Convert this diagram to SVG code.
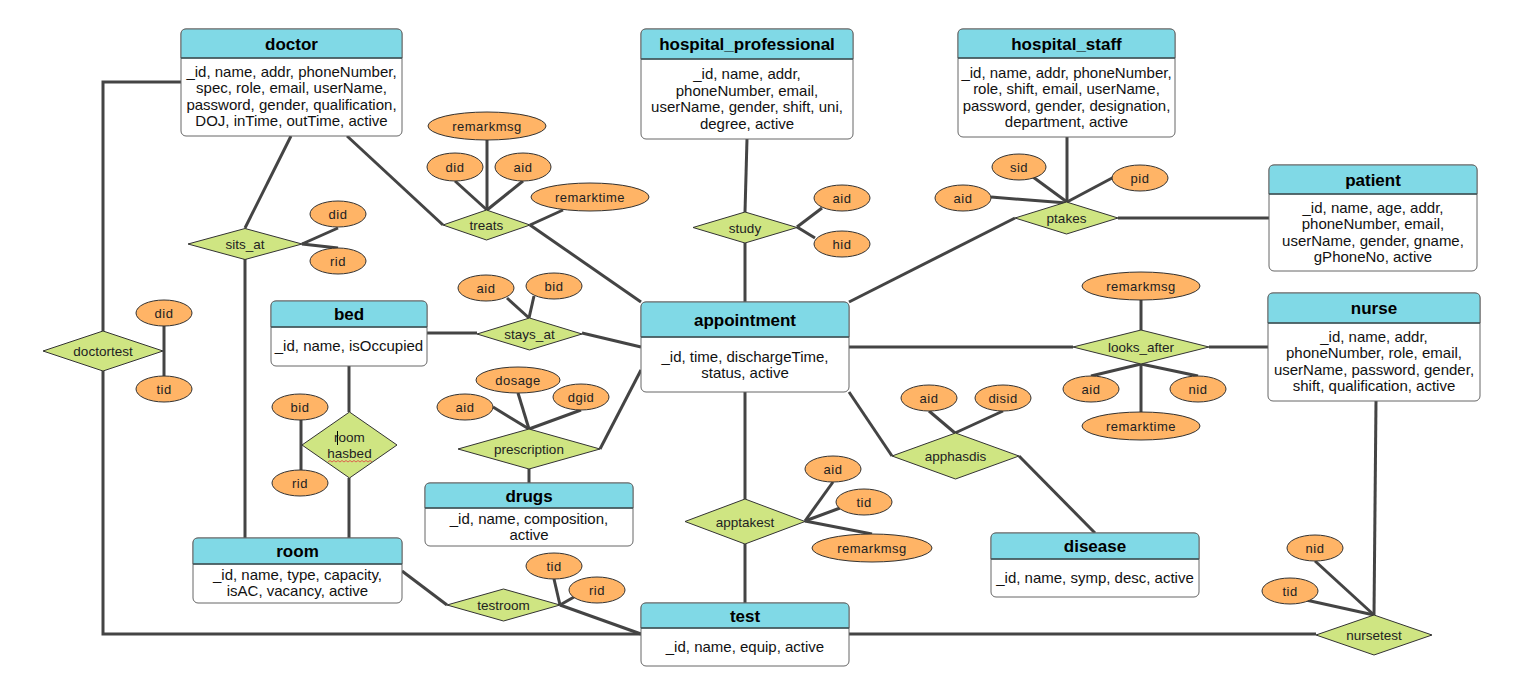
<svg xmlns="http://www.w3.org/2000/svg" width="1524" height="681" viewBox="0 0 1524 681">
<style>
.conn line,.conn polyline{stroke:#444;stroke-width:3;fill:none}
.body{fill:#fff;stroke:#666;stroke-width:1}
.head{fill:#80D9E6;stroke:#666;stroke-width:1}
.div{stroke:#3d5558;stroke-width:1.5}
.title{font-family:"Liberation Sans",Arial,sans-serif;font-size:17px;font-weight:bold;fill:#000;text-anchor:middle}
.attr{font-family:"Liberation Sans",Arial,sans-serif;font-size:15px;fill:#111;text-anchor:middle}
.rel polygon{fill:#CFE582;stroke:#333;stroke-width:1}
.rel text{font-family:"Liberation Sans",Arial,sans-serif;font-size:13.5px;fill:#222;text-anchor:middle}
.att ellipse{fill:#FFB466;stroke:#333;stroke-width:1}
.att text{font-family:"Liberation Sans",Arial,sans-serif;font-size:13px;letter-spacing:0.5px;fill:#222;text-anchor:middle}
</style>
<rect width="1524" height="681" fill="#fff"/>
<g id="connectors" class="conn">
<polyline points="181,82 103,82 103,331"/>
<polyline points="103,371 103,634 641,634"/>
<line x1="164" y1="326" x2="164" y2="376"/>
<line x1="291" y1="136" x2="245" y2="228"/>
<line x1="245" y1="259" x2="245" y2="538"/>
<line x1="302" y1="244" x2="338" y2="228"/>
<line x1="302" y1="244" x2="338" y2="248"/>
<line x1="347" y1="136" x2="443" y2="225"/>
<line x1="530" y1="225" x2="641" y2="302"/>
<line x1="487" y1="140" x2="487" y2="210"/>
<line x1="455" y1="181" x2="487" y2="210"/>
<line x1="523" y1="181" x2="487" y2="210"/>
<line x1="563" y1="210" x2="530" y2="225"/>
<line x1="747" y1="139" x2="745" y2="212"/>
<line x1="745" y1="243" x2="745" y2="302"/>
<line x1="797" y1="227" x2="822" y2="208"/>
<line x1="797" y1="227" x2="815" y2="238"/>
<line x1="1067" y1="137" x2="1067" y2="202"/>
<line x1="1033" y1="177" x2="1067" y2="202"/>
<line x1="991" y1="197" x2="1067" y2="203"/>
<line x1="1114" y1="177" x2="1067" y2="202"/>
<line x1="1118" y1="218" x2="1269" y2="218"/>
<line x1="1015" y1="218" x2="849" y2="302"/>
<line x1="427" y1="333" x2="477" y2="333"/>
<line x1="582" y1="333" x2="641" y2="347"/>
<line x1="507" y1="298" x2="529" y2="318"/>
<line x1="534" y1="296" x2="529" y2="318"/>
<line x1="349" y1="366" x2="349" y2="412"/>
<line x1="349" y1="478" x2="349" y2="538"/>
<line x1="301" y1="420" x2="301" y2="470"/>
<line x1="600" y1="449" x2="641" y2="370"/>
<line x1="529" y1="469" x2="529" y2="483"/>
<line x1="493" y1="407" x2="529" y2="429"/>
<line x1="518" y1="393" x2="529" y2="429"/>
<line x1="581" y1="410" x2="529" y2="429"/>
<line x1="849" y1="347" x2="1073" y2="347"/>
<line x1="1209" y1="347" x2="1268" y2="347"/>
<line x1="1141" y1="300" x2="1141" y2="330"/>
<line x1="1141" y1="364" x2="1091" y2="376"/>
<line x1="1141" y1="364" x2="1198" y2="376"/>
<line x1="1141" y1="364" x2="1141" y2="412"/>
<line x1="849" y1="392" x2="892" y2="456"/>
<line x1="1019" y1="456" x2="1095" y2="533"/>
<line x1="929" y1="411" x2="955" y2="433"/>
<line x1="1003" y1="411" x2="955" y2="433"/>
<line x1="745" y1="392" x2="745" y2="499"/>
<line x1="745" y1="544" x2="745" y2="603"/>
<line x1="833" y1="482" x2="805" y2="521"/>
<line x1="840" y1="508" x2="805" y2="521"/>
<line x1="872" y1="534" x2="805" y2="521"/>
<line x1="402" y1="571" x2="447" y2="605"/>
<line x1="560" y1="605" x2="641" y2="634"/>
<line x1="554" y1="579" x2="560" y2="605"/>
<line x1="574" y1="597" x2="560" y2="605"/>
<line x1="849" y1="634" x2="1316" y2="634"/>
<line x1="1376" y1="401" x2="1374" y2="615"/>
<line x1="1315" y1="561" x2="1374" y2="615"/>
<line x1="1306" y1="600" x2="1374" y2="615"/>
</g>

<g id="doctor">
<rect class="body" x="181" y="29" width="221" height="107" rx="5"/>
<path class="head" d="M181 58 V34 Q181 29 186 29 H397 Q402 29 402 34 V58 Z"/>
<line class="div" x1="181" y1="58" x2="402" y2="58"/>
<text class="title" x="291.5" y="49.5">doctor</text>
<text class="attr" x="291.5" y="77">_id, name, addr, phoneNumber,</text>
<text class="attr" x="291.5" y="93">spec, role, email, userName,</text>
<text class="attr" x="291.5" y="110">password, gender, qualification,</text>
<text class="attr" x="291.5" y="126">DOJ, inTime, outTime, active</text>
</g>
<g id="hospital_professional">
<rect class="body" x="641" y="29" width="212" height="110" rx="5"/>
<path class="head" d="M641 59 V34 Q641 29 646 29 H848 Q853 29 853 34 V59 Z"/>
<line class="div" x1="641" y1="59" x2="853" y2="59"/>
<text class="title" x="747" y="50">hospital_professional</text>
<text class="attr" x="747" y="79">_id, name, addr,</text>
<text class="attr" x="747" y="96">phoneNumber, email,</text>
<text class="attr" x="747" y="112">userName, gender, shift, uni,</text>
<text class="attr" x="747" y="129">degree, active</text>
</g>
<g id="hospital_staff">
<rect class="body" x="958" y="29" width="217" height="108" rx="5"/>
<path class="head" d="M958 58 V34 Q958 29 963 29 H1170 Q1175 29 1175 34 V58 Z"/>
<line class="div" x1="958" y1="58" x2="1175" y2="58"/>
<text class="title" x="1066.5" y="49.5">hospital_staff</text>
<text class="attr" x="1066.5" y="78">_id, name, addr, phoneNumber,</text>
<text class="attr" x="1066.5" y="94">role, shift, email, userName,</text>
<text class="attr" x="1066.5" y="111">password, gender, designation,</text>
<text class="attr" x="1066.5" y="127">department, active</text>
</g>
<g id="patient">
<rect class="body" x="1269" y="165" width="208" height="106" rx="5"/>
<path class="head" d="M1269 194 V170 Q1269 165 1274 165 H1472 Q1477 165 1477 170 V194 Z"/>
<line class="div" x1="1269" y1="194" x2="1477" y2="194"/>
<text class="title" x="1373" y="185.5">patient</text>
<text class="attr" x="1373" y="213">_id, name, age, addr,</text>
<text class="attr" x="1373" y="229">phoneNumber, email,</text>
<text class="attr" x="1373" y="246">userName, gender, gname,</text>
<text class="attr" x="1373" y="262">gPhoneNo, active</text>
</g>
<g id="nurse">
<rect class="body" x="1268" y="293" width="212" height="108" rx="5"/>
<path class="head" d="M1268 323 V298 Q1268 293 1273 293 H1475 Q1480 293 1480 298 V323 Z"/>
<line class="div" x1="1268" y1="323" x2="1480" y2="323"/>
<text class="title" x="1374" y="314">nurse</text>
<text class="attr" x="1374" y="342">_id, name, addr,</text>
<text class="attr" x="1374" y="358">phoneNumber, role, email,</text>
<text class="attr" x="1374" y="375">userName, password, gender,</text>
<text class="attr" x="1374" y="391">shift, qualification, active</text>
</g>
<g id="appointment">
<rect class="body" x="641" y="302" width="208" height="90" rx="5"/>
<path class="head" d="M641 337 V307 Q641 302 646 302 H844 Q849 302 849 307 V337 Z"/>
<line class="div" x1="641" y1="337" x2="849" y2="337"/>
<text class="title" x="745" y="325.5">appointment</text>
<text class="attr" x="745" y="362">_id, time, dischargeTime,</text>
<text class="attr" x="745" y="378">status, active</text>
</g>
<g id="bed">
<rect class="body" x="271" y="301" width="156" height="65" rx="5"/>
<path class="head" d="M271 327 V306 Q271 301 276 301 H422 Q427 301 427 306 V327 Z"/>
<line class="div" x1="271" y1="327" x2="427" y2="327"/>
<text class="title" x="349" y="320">bed</text>
<text class="attr" x="349" y="351">_id, name, isOccupied</text>
</g>
<g id="room">
<rect class="body" x="193" y="538" width="209" height="65" rx="5"/>
<path class="head" d="M193 564 V543 Q193 538 198 538 H397 Q402 538 402 543 V564 Z"/>
<line class="div" x1="193" y1="564" x2="402" y2="564"/>
<text class="title" x="297.5" y="557">room</text>
<text class="attr" x="297.5" y="580">_id, name, type, capacity,</text>
<text class="attr" x="297.5" y="596">isAC, vacancy, active</text>
</g>
<g id="drugs">
<rect class="body" x="425" y="483" width="208" height="63" rx="5"/>
<path class="head" d="M425 508 V488 Q425 483 430 483 H628 Q633 483 633 488 V508 Z"/>
<line class="div" x1="425" y1="508" x2="633" y2="508"/>
<text class="title" x="529" y="501.5">drugs</text>
<text class="attr" x="529" y="524">_id, name, composition,</text>
<text class="attr" x="529" y="540">active</text>
</g>
<g id="test">
<rect class="body" x="641" y="603" width="208" height="63" rx="5"/>
<path class="head" d="M641 628 V608 Q641 603 646 603 H844 Q849 603 849 608 V628 Z"/>
<line class="div" x1="641" y1="628" x2="849" y2="628"/>
<text class="title" x="745" y="621.5">test</text>
<text class="attr" x="745" y="652">_id, name, equip, active</text>
</g>
<g id="disease">
<rect class="body" x="991" y="533" width="208" height="64" rx="5"/>
<path class="head" d="M991 559 V538 Q991 533 996 533 H1194 Q1199 533 1199 538 V559 Z"/>
<line class="div" x1="991" y1="559" x2="1199" y2="559"/>
<text class="title" x="1095" y="552">disease</text>
<text class="attr" x="1095" y="583">_id, name, symp, desc, active</text>
</g>

<g id="treats" class="rel"><polygon points="443,225 486.5,210 530,225 486.5,240"/><text x="486.5" y="230">treats</text></g>
<g id="sits_at" class="rel"><polygon points="188,244 245,228.5 302,244 245,259.5"/><text x="245" y="249">sits_at</text></g>
<g id="doctortest" class="rel"><polygon points="43,351 103,331 163,351 103,371"/><text x="103" y="356">doctortest</text></g>
<g id="study" class="rel"><polygon points="693,227.5 745,212 797,227.5 745,243"/><text x="745" y="232.5">study</text></g>
<g id="ptakes" class="rel"><polygon points="1015,218 1066.5,202 1118,218 1066.5,234"/><text x="1066.5" y="223">ptakes</text></g>
<g id="stays_at" class="rel"><polygon points="477,334 529.5,318 582,334 529.5,350"/><text x="529.5" y="339">stays_at</text></g>
<g id="room_hasbed" class="rel"><polygon points="302,445 349.5,412 397,445 349.5,478"/><text x="349.5" y="442">room</text><text x="349.5" y="458">hasbed</text>
<line x1="337.5" y1="431" x2="337.5" y2="445" stroke="#000" stroke-width="1"/>
<path d="M328 462 l2 -1.5 l2 1.5 l2 -1.5 l2 1.5 l2 -1.5 l2 1.5 l2 -1.5 l2 1.5 l2 -1.5 l2 1.5 l2 -1.5 l2 1.5 l2 -1.5 l2 1.5 l2 -1.5 l2 1.5 l2 -1.5 l2 1.5 l2 -1.5 l2 1.5 l2 -1.5 l2 1.5" fill="none" stroke="#e04040" stroke-width="0.8"/></g>
<g id="prescription" class="rel"><polygon points="458,449 529,429 600,449 529,469"/><text x="529" y="454">prescription</text></g>
<g id="apptakest" class="rel"><polygon points="685,521.5 745,499 805,521.5 745,544"/><text x="745" y="526.5">apptakest</text></g>
<g id="testroom" class="rel"><polygon points="447,605 503.5,589 560,605 503.5,621"/><text x="503.5" y="610">testroom</text></g>
<g id="apphasdis" class="rel"><polygon points="892,456 955.5,433 1019,456 955.5,479"/><text x="955.5" y="461">apphasdis</text></g>
<g id="looks_after" class="rel"><polygon points="1073,347 1141,330 1209,347 1141,364"/><text x="1141" y="352">looks_after</text></g>
<g id="nursetest" class="rel"><polygon points="1316,635 1374,615 1432,635 1374,655"/><text x="1374" y="640">nursetest</text></g>

<g id="treats_attrs" class="att">
<ellipse cx="487" cy="126" rx="59" ry="14"/><text x="487" y="130.5">remarkmsg</text>
<ellipse cx="455" cy="167" rx="28" ry="14"/><text x="455" y="171.5">did</text>
<ellipse cx="523" cy="167" rx="28" ry="14"/><text x="523" y="171.5">aid</text>
<ellipse cx="590" cy="197" rx="59" ry="14"/><text x="590" y="201.5">remarktime</text>
</g>
<g id="sits_at_attrs" class="att">
<ellipse cx="338" cy="214" rx="28" ry="13"/><text x="338" y="218.5">did</text>
<ellipse cx="338" cy="261" rx="28" ry="13"/><text x="338" y="265.5">rid</text>
</g>
<g id="doctortest_attrs" class="att">
<ellipse cx="164" cy="313" rx="28" ry="13"/><text x="164" y="317.5">did</text>
<ellipse cx="164" cy="389" rx="28" ry="13"/><text x="164" y="393.5">tid</text>
</g>
<g id="study_attrs" class="att">
<ellipse cx="842" cy="198" rx="28" ry="13"/><text x="842" y="202.5">aid</text>
<ellipse cx="842" cy="244" rx="28" ry="13"/><text x="842" y="248.5">hid</text>
</g>
<g id="ptakes_attrs" class="att">
<ellipse cx="1019" cy="167" rx="27" ry="13"/><text x="1019" y="171.5">sid</text>
<ellipse cx="963" cy="198" rx="28" ry="13"/><text x="963" y="202.5">aid</text>
<ellipse cx="1140" cy="178" rx="28" ry="13"/><text x="1140" y="182.5">pid</text>
</g>
<g id="stays_at_attrs" class="att">
<ellipse cx="486" cy="288" rx="28" ry="13"/><text x="486" y="292.5">aid</text>
<ellipse cx="554" cy="286" rx="28" ry="13"/><text x="554" y="290.5">bid</text>
</g>
<g id="room_hasbed_attrs" class="att">
<ellipse cx="300" cy="407" rx="28" ry="13"/><text x="300" y="411.5">bid</text>
<ellipse cx="300" cy="483" rx="28" ry="13"/><text x="300" y="487.5">rid</text>
</g>
<g id="prescription_attrs" class="att">
<ellipse cx="518" cy="380" rx="42" ry="13"/><text x="518" y="384.5">dosage</text>
<ellipse cx="465" cy="407" rx="28" ry="13"/><text x="465" y="411.5">aid</text>
<ellipse cx="581" cy="397" rx="28" ry="13"/><text x="581" y="401.5">dgid</text>
</g>
<g id="apptakest_attrs" class="att">
<ellipse cx="833" cy="469" rx="28" ry="13"/><text x="833" y="473.5">aid</text>
<ellipse cx="864" cy="502" rx="28" ry="13"/><text x="864" y="506.5">tid</text>
<ellipse cx="872" cy="548" rx="60" ry="14"/><text x="872" y="552.5">remarkmsg</text>
</g>
<g id="testroom_attrs" class="att">
<ellipse cx="554" cy="566" rx="28" ry="13"/><text x="554" y="570.5">tid</text>
<ellipse cx="597" cy="590" rx="28" ry="13"/><text x="597" y="594.5">rid</text>
</g>
<g id="apphasdis_attrs" class="att">
<ellipse cx="929" cy="398" rx="28" ry="13"/><text x="929" y="402.5">aid</text>
<ellipse cx="1003" cy="398" rx="28" ry="13"/><text x="1003" y="402.5">disid</text>
</g>
<g id="looks_after_attrs" class="att">
<ellipse cx="1141" cy="286" rx="59" ry="14"/><text x="1141" y="290.5">remarkmsg</text>
<ellipse cx="1091" cy="389" rx="28" ry="13"/><text x="1091" y="393.5">aid</text>
<ellipse cx="1198" cy="389" rx="28" ry="13"/><text x="1198" y="393.5">nid</text>
<ellipse cx="1141" cy="426" rx="59" ry="14"/><text x="1141" y="430.5">remarktime</text>
</g>
<g id="nursetest_attrs" class="att">
<ellipse cx="1315" cy="548" rx="28" ry="13"/><text x="1315" y="552.5">nid</text>
<ellipse cx="1290" cy="591" rx="28" ry="13"/><text x="1290" y="595.5">tid</text>
</g>
</svg>
